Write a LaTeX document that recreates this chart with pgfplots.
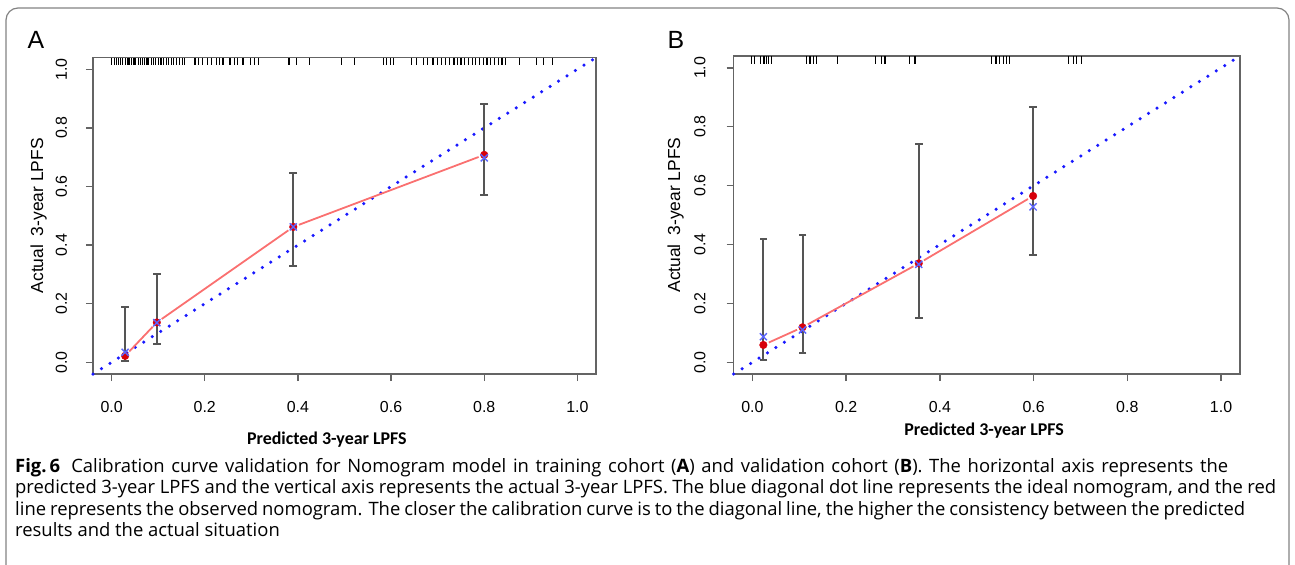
\documentclass[border=0pt]{standalone}
\usepackage{fontspec}
\setmainfont{Liberation Sans}
\newfontfamily\capfont{Carlito}
\newfontfamily\txtfont{Open Sans}
\usepackage{pgfplots}
\pgfplotsset{compat=1.18}

\definecolor{boxgray}{RGB}{100,100,100}
\definecolor{errgray}{RGB}{85,85,85}
\definecolor{salmon}{RGB}{250,112,112}
\definecolor{dotred}{RGB}{215,0,10}
\definecolor{xblue}{RGB}{90,100,255}
\definecolor{diagblue}{RGB}{25,25,255}
\definecolor{framegray}{RGB}{130,130,130}

\pgfplotsset{
  calib/.style={
    scale only axis,
    xmin=-0.04, xmax=1.04, ymin=-0.04, ymax=1.04,
    axis line style={draw=boxgray, line width=1.4bp},
    tick pos=left, tick align=outside, major tick length=7bp,
    tick style={draw=boxgray, line width=1.4bp},
    xtick={0,0.2,0.4,0.6,0.8,1}, ytick={0,0.2,0.4,0.6,0.8,1},
    xticklabels={0.0,0.2,0.4,0.6,0.8,1.0},
    yticklabels={0.0,0.2,0.4,0.6,0.8,1.0},
    ticklabel style={font=\fontsize{16}{16}\selectfont, text=black, inner sep=0pt},
    /pgf/number format/assume math mode=true,
    xticklabel style={anchor=north},
    xticklabel shift=19.7bp,
    yticklabel style={rotate=90, anchor=south},
    clip=false,
    ylabel style={font=\fontsize{17.5}{17.5}\selectfont, anchor=center},
    xlabel style={font=\capfont\bfseries\fontsize{18}{18}\selectfont, anchor=base},
  },
  rug/.style={only marks, mark=|, mark size=3.8bp, black, line width=1.2bp},
  errb/.style={errgray, line width=2bp, mark=-, mark size=3.8bp, mark options={solid, line width=2bp}},
  obsline/.style={salmon, line width=1.8bp, shorten <=6bp, shorten >=6bp},
  reddot/.style={only marks, mark=*, mark size=3.8bp, mark options={draw=dotred, fill=dotred}},
  bluex/.style={only marks, mark=x, mark size=5bp, mark options={draw=xblue, line width=1.4bp}},
  diag/.style={diagblue, line width=3.5bp, line cap=round, dash pattern=on 0bp off 10bp},
}

\begin{document}
\begin{tikzpicture}
\path[use as bounding box] (0bp,0bp) rectangle (1295bp,-565bp);
\draw[framegray, line width=1.2bp, rounded corners=12bp]
  (6bp,-566bp) -- (6bp,-8bp) -- (1289bp,-8bp) -- (1289bp,-566bp);

\node[font=\fontsize{25}{25}\selectfont, anchor=base] at (36bp,-48bp) {A};
\node[font=\fontsize{25}{25}\selectfont, anchor=base] at (676bp,-48bp) {B};

% ---------------- Panel A ----------------
\begin{axis}[calib,
  at={(93bp,-374bp)}, anchor=south west,
  width=503bp, height=316.4bp,
  yticklabel shift=18.7bp,
  ylabel={Actual\hspace{0.5em}3-year LPFS},
  ylabel style={at={(axis description cs:-0.108,0.5)}},
  xlabel={Predicted 3-year LPFS},
  xlabel style={at={(axis description cs:0.465,0)}, yshift=-70bp},
]
\addplot[diag] coordinates {(-0.04,-0.04) (1.04,1.04)};
\addplot[rug] coordinates {
(0.000,1.027) (0.006,1.027) (0.010,1.027) (0.014,1.027) (0.019,1.027) (0.024,1.027)
(0.030,1.027) (0.035,1.027) (0.038,1.027) (0.043,1.027) (0.048,1.027) (0.052,1.027)
(0.057,1.027) (0.062,1.027) (0.066,1.027) (0.071,1.027) (0.076,1.027) (0.080,1.027)
(0.086,1.027) (0.090,1.027) (0.095,1.027) (0.100,1.027) (0.106,1.027) (0.111,1.027)
(0.117,1.027) (0.122,1.027) (0.128,1.027) (0.133,1.027) (0.140,1.027) (0.146,1.027)
(0.152,1.027) (0.157,1.027)
(0.179,1.027) (0.186,1.027) (0.195,1.027) (0.206,1.027) (0.214,1.027) (0.226,1.027)
(0.232,1.027) (0.239,1.027)
(0.254,1.027) (0.263,1.027) (0.270,1.027) (0.282,1.027) (0.298,1.027) (0.306,1.027) (0.315,1.027)
(0.381,1.027) (0.397,1.027) (0.425,1.027)
(0.494,1.027) (0.522,1.027)
(0.583,1.027) (0.590,1.027) (0.599,1.027) (0.606,1.027)
(0.644,1.027) (0.655,1.027) (0.669,1.027) (0.678,1.027) (0.690,1.027) (0.700,1.027)
(0.708,1.027) (0.717,1.027) (0.726,1.027) (0.735,1.027) (0.742,1.027) (0.750,1.027)
(0.758,1.027) (0.766,1.027) (0.775,1.027) (0.782,1.027) (0.790,1.027) (0.798,1.027)
(0.806,1.027) (0.813,1.027) (0.822,1.027) (0.830,1.027) (0.838,1.027) (0.845,1.027)
(0.876,1.027)
(0.912,1.027) (0.928,1.027) (0.946,1.027)
};
% error bars
\addplot[errb] coordinates {(0.029,0.005) (0.029,0.188)};
\addplot[errb] coordinates {(0.097,0.061) (0.097,0.301)};
\addplot[errb] coordinates {(0.390,0.329) (0.390,0.647)};
\addplot[errb] coordinates {(0.800,0.570) (0.800,0.881)};
% observed line
\addplot[obsline] coordinates {(0.029,0.022) (0.097,0.136)};
\addplot[obsline] coordinates {(0.097,0.136) (0.390,0.462)};
\addplot[obsline] coordinates {(0.390,0.462) (0.800,0.708)};
\addplot[reddot] coordinates {(0.029,0.022) (0.097,0.136) (0.390,0.462) (0.800,0.708)};
\addplot[bluex] coordinates {(0.029,0.034) (0.097,0.135) (0.390,0.462) (0.800,0.698)};
\end{axis}

% ---------------- Panel B ----------------
\begin{axis}[calib,
  at={(733.6bp,-374.1bp)}, anchor=south west,
  width=506.2bp, height=318bp,
  yticklabel shift=21bp,
  ylabel={Actual\hspace{0.5em}3-year LPFS},
  ylabel style={at={(axis description cs:-0.1144,0.5)}},
  xlabel={Predicted 3-year LPFS},
  xlabel style={at={(axis description cs:0.495,0)}, yshift=-61bp},
]
\addplot[diag] coordinates {(-0.04,-0.04) (1.04,1.04)};
\addplot[rug] coordinates {
(-0.001,1.027) (0.004,1.027) (0.018,1.027) (0.025,1.027) (0.030,1.027) (0.035,1.027) (0.041,1.027)
(0.116,1.027) (0.123,1.027) (0.130,1.027) (0.137,1.027)
(0.181,1.027)
(0.262,1.027) (0.276,1.027) (0.283,1.027)
(0.336,1.027) (0.347,1.027)
(0.510,1.027) (0.520,1.027) (0.528,1.027) (0.535,1.027) (0.542,1.027) (0.549,1.027)
(0.674,1.027) (0.685,1.027) (0.692,1.027) (0.702,1.027)
};
\addplot[errb] coordinates {(0.0235,0.008) (0.0235,0.418)};
\addplot[errb] coordinates {(0.107,0.033) (0.107,0.432)};
\addplot[errb] coordinates {(0.355,0.152) (0.355,0.741)};
\addplot[errb] coordinates {(0.599,0.365) (0.599,0.868)};
\addplot[obsline] coordinates {(0.0235,0.059) (0.107,0.119)};
\addplot[obsline] coordinates {(0.107,0.119) (0.355,0.336)};
\addplot[obsline] coordinates {(0.355,0.336) (0.599,0.565)};
\addplot[reddot] coordinates {(0.0235,0.059) (0.107,0.119) (0.355,0.336) (0.599,0.565)};
\addplot[bluex] coordinates {(0.0235,0.087) (0.107,0.110) (0.355,0.333) (0.599,0.528)};
\end{axis}

% ---------------- Caption ----------------
\begin{scope}[every node/.style={anchor=base west, inner sep=0pt, font=\txtfont\fontsize{18.5}{21.5}\selectfont}]
\node at (15bp,-472bp) {\makebox[1213bp][s]{\mbox{\textbf{Fig.\,6}}\hspace{0.6em}Calibration curve validation for Nomogram model in training cohort (\textbf{A}) and validation cohort (\textbf{B}). The horizontal axis represents the}};
\node at (15bp,-493.5bp) {\makebox[1261bp][s]{predicted 3-year LPFS and the vertical axis represents the actual 3-year LPFS. The blue diagonal dot line represents the ideal nomogram, and the red}};
\node at (15bp,-515bp) {\makebox[1230bp][s]{line represents the observed nomogram. The closer the calibration curve is to the diagonal line, the higher the consistency between the predicted}};
\node at (15bp,-536.5bp) {results and the actual situation};
\end{scope}
\end{tikzpicture}
\end{document}
